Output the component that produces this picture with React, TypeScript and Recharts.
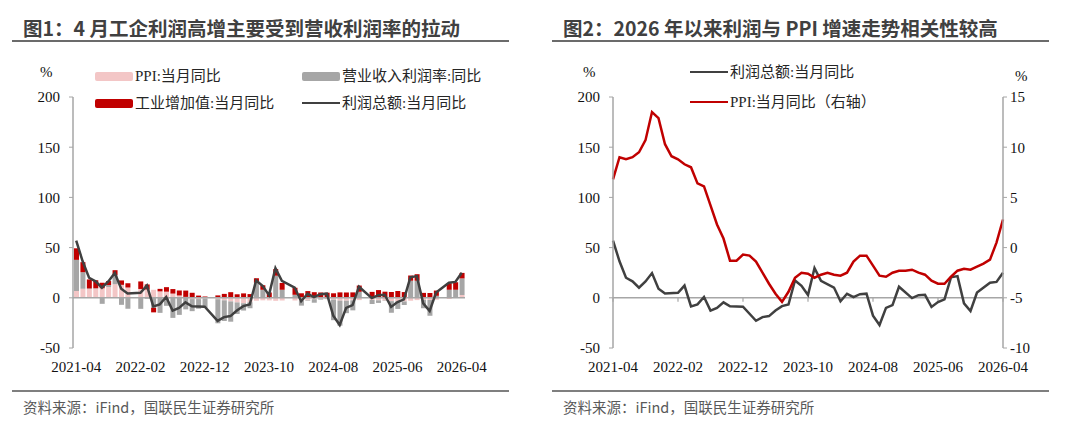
import React from 'react';
import { ComposedChart, LineChart, Bar, Line, XAxis, YAxis, ReferenceLine } from 'recharts';

const months = [
  '2021-04', '2021-05', '2021-06', '2021-07', '2021-08', '2021-09', '2021-10', '2021-11', '2021-12',
  '2022-01', '2022-02', '2022-03', '2022-04', '2022-05', '2022-06', '2022-07', '2022-08', '2022-09', '2022-10', '2022-11', '2022-12',
  '2023-01', '2023-02', '2023-03', '2023-04', '2023-05', '2023-06', '2023-07', '2023-08', '2023-09', '2023-10', '2023-11', '2023-12',
  '2024-01', '2024-02', '2024-03', '2024-04', '2024-05', '2024-06', '2024-07', '2024-08', '2024-09', '2024-10', '2024-11', '2024-12',
  '2025-01', '2025-02', '2025-03', '2025-04', '2025-05', '2025-06', '2025-07', '2025-08', '2025-09', '2025-10', '2025-11', '2025-12',
  '2026-01', '2026-02', '2026-03', '2026-04',
];

// 利润总额:当月同比 (1 月与 2 月合并公布，1 月为空)
const profitYoy = [
  57.0, 36.4, 20.0, 16.4, 10.1, 16.3, 24.6, 9.0, 4.2,
  null, 5.0, 12.2, -8.5, -6.5, 0.8, -12.8, -10.0, -4.5, -8.5, -8.7, -8.8,
  null, -22.9, -19.2, -18.2, -12.6, -8.3, -6.7, 17.2, 11.9, 2.7, 29.5, 16.8,
  null, 10.2, -3.5, 4.0, 0.7, 3.6, 4.1, -17.8, -27.1, -10.0, -7.3, 11.0,
  null, -0.3, 2.6, 3.0, -9.1, -4.3, -1.5, 20.4, 21.6, -5.5, -13.1, 5.3,
  null, 15.0, 15.8, 25.0,
];

// PPI:当月同比
const ppiYoy = [
  6.8, 9.0, 8.8, 9.0, 9.5, 10.7, 13.5, 12.9, 10.3,
  9.1, 8.8, 8.3, 8.0, 6.4, 6.1, 4.2, 2.3, 0.9, -1.3, -1.3, -0.7,
  -0.8, -1.4, -2.5, -3.6, -4.6, -5.4, -4.4, -3.0, -2.5, -2.6, -3.0, -2.7,
  -2.5, -2.7, -2.8, -2.5, -1.4, -0.8, -0.8, -1.8, -2.8, -2.9, -2.5, -2.3,
  -2.3, -2.2, -2.5, -2.7, -3.3, -3.6, -3.6, -2.9, -2.3, -2.1, -2.2, -1.9,
  -1.6, -1.2, 0.5, 2.8,
];

// 工业增加值:当月同比
const valueAddedYoy = [
  11.5, 10.0, 9.0, 8.0, 5.5, 4.0, 5.0, 4.4, 4.3,
  null, 7.5, 5.0, -4.5, 2.5, 4.5, 4.5, 5.0, 6.3, 5.0, 2.2, 1.3,
  null, 2.4, 3.9, 5.6, 3.5, 4.4, 3.7, 4.5, 4.5, 4.6, 6.6, 6.8,
  null, 7.0, 4.5, 6.7, 5.6, 5.3, 5.1, 4.5, 5.4, 5.3, 5.4, 6.2,
  null, 5.9, 7.7, 6.1, 5.8, 6.8, 5.7, 5.2, 6.5, 4.9, 4.8, 5.2,
  null, 6.5, 7.5, 5.5,
];

// 营业收入利润率:同比
const marginYoy = [
  31.0, 16.5, 0.5, 0.5, -6.0, 2.0, 9.0, -7.0, -11.0,
  null, -11.0, -1.0, -10.0, -15.0, -8.0, -20.0, -17.0, -11.5, -12.0, -9.6, -9.4,
  null, -24.0, -20.6, -20.2, -11.5, -7.3, -6.0, 15.0, 8.0, 0.7, 22.0, 8.0,
  null, 3.0, -5.0, -0.5, -3.5, -1.0, -0.5, -20.5, -25.0, -12.4, -10.0, 6.0,
  null, -4.0, -2.6, -0.4, -11.6, -7.5, -3.6, 17.0, 17.0, -8.3, -15.7, 2.0,
  null, 8.0, 7.5, 16.5,
];

const tickMonths = ['2021-04', '2022-02', '2022-12', '2023-10', '2024-08', '2025-06', '2026-04'];
const leftTicks = [-50, 0, 50, 100, 150, 200];
const rightTicks = [-10, -5, 0, 5, 10, 15];

const AXIS_GRAY = '#A6A6A6';
const LINE_GRAY = '#404040';
const RED = '#C00000';
const serif = "'Liberation Serif', 'Times New Roman', 'Noto Sans CJK SC', serif";
const cjkSans = "'Noto Sans CJK SC', 'Noto Sans', sans-serif";

const tickStyle = { fill: '#111', fontSize: 15, fontFamily: serif };

const contributionData = months.map((month, i) => ({
  month,
  ppi: profitYoy[i] === null ? null : ppiYoy[i],
  margin: marginYoy[i],
  va: valueAddedYoy[i],
  profit: profitYoy[i],
}));

const trendData = months.map((month, i) => ({
  month,
  profit: profitYoy[i],
  ppi: ppiYoy[i],
}));

const LegendItem = ({ x, y, color, label, line }: { x: number; y: number; color: string; label: string; line?: boolean }) => (
  <div style={{ position: 'absolute', left: x, top: y - 10, height: 20, display: 'flex', alignItems: 'center', whiteSpace: 'nowrap' }}>
    {line ? (
      <div style={{ width: 38, height: 2.5, background: color }} />
    ) : (
      <div style={{ width: 38, height: 9, background: color, borderRadius: 2 }} />
    )}
    <span style={{ marginLeft: 2, fontFamily: serif, fontSize: 15, color: '#262626', lineHeight: '20px' }}>{label}</span>
  </div>
);

const Unit = ({ x, y }: { x: number; y: number }) => (
  <div style={{ position: 'absolute', left: x, top: y - 10, lineHeight: '20px', fontFamily: serif, fontSize: 15, color: '#111' }}>%</div>
);

const Panel = ({ left, title, children }: { left: number; title: string; children: React.ReactNode }) => (
  <div style={{ position: 'absolute', left, top: 0, width: 540, height: 425 }}>
    <div style={{ position: 'absolute', left: 23, top: 14, lineHeight: '28px', fontFamily: cjkSans, fontWeight: 700, fontSize: 19.5, color: '#404040', whiteSpace: 'nowrap' }}>
      {title}
    </div>
    <div style={{ position: 'absolute', left: 12, top: 40, width: 497, height: 2, background: '#6b6b6b' }} />
    {children}
    <div style={{ position: 'absolute', left: 12, top: 390, width: 497, height: 2, background: '#7f7f7f' }} />
    <div style={{ position: 'absolute', left: 23, top: 397, lineHeight: '20px', fontFamily: cjkSans, fontSize: 14.5, color: '#595959', whiteSpace: 'nowrap' }}>
      资料来源：iFind，国联民生证券研究所
    </div>
  </div>
);

const ContributionChart = () => (
  <div style={{ position: 'absolute', left: 0, top: 0 }}>
    <ComposedChart
      width={540}
      height={378}
      data={contributionData}
      margin={{ top: 97, right: 75, bottom: 0, left: 0 }}
      stackOffset="sign"
      barSize={5}
    >
      <XAxis dataKey="month" scale="band" interval={9} tickLine={false} axisLine={false} tickSize={6} tickMargin={7} height={30} tick={tickStyle} />
      <YAxis
        domain={[-50, 200]}
        ticks={leftTicks}
        interval={0}
        width={73}
        tickSize={4}
        tickMargin={9}
        tick={tickStyle}
        axisLine={{ stroke: AXIS_GRAY, strokeWidth: 1.5 }}
        tickLine={{ stroke: AXIS_GRAY }}
      />
      <Bar dataKey="ppi" stackId="c" fill="#F3C6C6" isAnimationActive={false} />
      <Bar dataKey="margin" stackId="c" fill="#A6A6A6" isAnimationActive={false} />
      <Bar dataKey="va" stackId="c" fill={RED} isAnimationActive={false} />
      <ReferenceLine y={0} stroke={AXIS_GRAY} strokeWidth={1.5} />
      <Line dataKey="profit" type="linear" stroke={LINE_GRAY} strokeWidth={2.5} dot={false} connectNulls isAnimationActive={false} />
    </ComposedChart>
  </div>
);

const TrendChart = () => (
  <div style={{ position: 'absolute', left: 0, top: 0 }}>
    <LineChart width={540} height={378} data={trendData} margin={{ top: 97, right: 0, bottom: 0, left: 0 }}>
      <XAxis dataKey="month" scale="point" interval={9} tickLine={false} axisLine={false} tickSize={6} tickMargin={7} height={30} tick={tickStyle} />
      <YAxis
        yAxisId="left"
        domain={[-50, 200]}
        ticks={leftTicks}
        interval={0}
        width={73}
        tickSize={4}
        tickMargin={9}
        tick={tickStyle}
        axisLine={{ stroke: AXIS_GRAY, strokeWidth: 1.5 }}
        tickLine={{ stroke: AXIS_GRAY }}
      />
      <YAxis
        yAxisId="right"
        orientation="right"
        domain={[-10, 15]}
        ticks={rightTicks}
        interval={0}
        width={77}
        tickSize={4}
        tickMargin={3}
        tick={tickStyle}
        axisLine={{ stroke: AXIS_GRAY, strokeWidth: 1.5 }}
        tickLine={{ stroke: AXIS_GRAY }}
      />
      <ReferenceLine yAxisId="left" y={0} stroke={AXIS_GRAY} strokeWidth={1.5} />
      {tickMonths.map((m) => (
        <ReferenceLine
          key={m}
          yAxisId="left"
          segment={[{ x: m, y: 0 }, { x: m, y: -4 }]}
          stroke={AXIS_GRAY}
          strokeWidth={1.2}
        />
      ))}
      <Line yAxisId="left" dataKey="profit" type="linear" stroke={LINE_GRAY} strokeWidth={2.5} dot={false} connectNulls isAnimationActive={false} />
      <Line yAxisId="right" dataKey="ppi" type="linear" stroke={RED} strokeWidth={2.5} dot={false} isAnimationActive={false} />
    </LineChart>
  </div>
);

export default function App() {
  return (
    <div style={{ position: 'absolute', left: 0, top: 0, width: 1080, height: 425, background: '#fff', overflow: 'hidden' }}>
      <Panel left={0} title="图1：4 月工企利润高增主要受到营收利润率的拉动">
        <ContributionChart />
        <Unit x={40} y={72} />
        <LegendItem x={95} y={76} color="#F3C6C6" label="PPI:当月同比" />
        <LegendItem x={302} y={76} color="#A6A6A6" label="营业收入利润率:同比" />
        <LegendItem x={95} y={103} color={RED} label="工业增加值:当月同比" />
        <LegendItem x={302} y={103} color={LINE_GRAY} label="利润总额:当月同比" line />
      </Panel>
      <Panel left={540} title="图2：2026 年以来利润与 PPI 增速走势相关性较高">
        <TrendChart />
        <Unit x={43} y={72} />
        <Unit x={475} y={76} />
        <LegendItem x={150} y={72} color={LINE_GRAY} label="利润总额:当月同比" line />
        <LegendItem x={150} y={102} color={RED} label="PPI:当月同比（右轴）" line />
      </Panel>
    </div>
  );
}
